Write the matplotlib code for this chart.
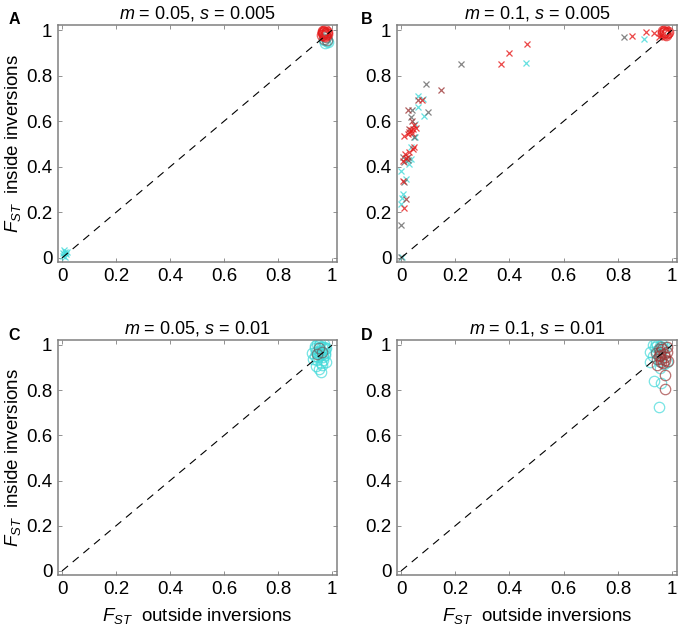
import matplotlib
matplotlib.use("Agg")
import matplotlib.pyplot as plt
from matplotlib.ticker import FuncFormatter

plt.rcParams['font.family'] = ['Liberation Sans', 'DejaVu Sans']
plt.rcParams['mathtext.fontset'] = 'custom'
plt.rcParams['mathtext.rm'] = 'Liberation Sans'
plt.rcParams['mathtext.it'] = 'Liberation Sans:italic'

# colours of the replicate groups
CYAN = (0.25, 0.85, 0.85)
GREY = (0.40, 0.40, 0.40)
DRED = (0.62, 0.22, 0.22)
RED = (0.90, 0.10, 0.10)

titles = ["$m$ = 0.05, $s$ = 0.005", "$m$ = 0.1, $s$ = 0.005",
          "$m$ = 0.05, $s$ = 0.01", "$m$ = 0.1, $s$ = 0.01"]
letters = ["A", "B", "C", "D"]
ticks = [0, 0.2, 0.4, 0.6, 0.8, 1]

# Panel A
a_cyan_x_x = [0.005, 0.010, 0.015, 0.008, 0.012, 0.004, 0.018]
a_cyan_x_y = [0.010, 0.025, 0.015, 0.035, 0.005, 0.020, 0.028]
a_red_o_x = [0.965, 0.970, 0.975, 0.980, 0.968, 0.972, 0.978, 0.962, 0.974, 0.966,
             0.982, 0.970]
a_red_o_y = [0.985, 0.990, 0.980, 0.990, 0.995, 0.975, 0.985, 0.978, 0.998, 0.992,
             0.982, 0.983]
a_grey_o_x = [0.970, 0.976, 0.982]
a_grey_o_y = [0.960, 0.968, 0.958]
a_cyan_o_x = [0.975, 0.980, 0.970, 0.985]
a_cyan_o_y = [0.945, 0.950, 0.955, 0.948]

# Panel B
b_red_x_x = [0.853, 0.902, 0.933, 0.951, 0.969, 0.466, 0.399, 0.368, 0.077, 0.012,
             0.025, 0.035, 0.043, 0.049, 0.040, 0.030, 0.043, 0.049, 0.031, 0.016,
             0.006, 0.006, 0.012, 0.020, 0.055]
b_red_x_y = [0.974, 0.990, 0.985, 0.971, 0.985, 0.937, 0.900, 0.849, 0.694, 0.537,
             0.544, 0.560, 0.566, 0.585, 0.548, 0.552, 0.478, 0.485, 0.463, 0.456,
             0.426, 0.338, 0.221, 0.440, 0.570]
b_dred_x_x = [0.147, 0.025, 0.028, 0.025, 0.018, 0.061, 0.040]
b_dred_x_y = [0.735, 0.647, 0.566, 0.441, 0.257, 0.691, 0.600]
b_grey_x_x = [0.822, 0.221, 0.092, 0.098, 0.037, 0.040, 0.049, 0.006, 0.012, 0.012,
              0.000, 0.001, 0.025]
b_grey_x_y = [0.971, 0.849, 0.762, 0.640, 0.618, 0.647, 0.532, 0.441, 0.419, 0.331,
              0.144, 0.003, 0.430]
b_cyan_x_x = [0.896, 0.460, 0.080, 0.061, 0.061, 0.086, 0.053, 0.053, 0.037, 0.037,
              0.031, 0.000, 0.018, 0.006, 0.004, 0.000, 0.003]
b_cyan_x_y = [0.959, 0.856, 0.699, 0.709, 0.662, 0.621, 0.588, 0.529, 0.485, 0.434,
              0.412, 0.382, 0.346, 0.279, 0.265, 0.238, 0.005]
b_red_o_x = [0.965, 0.970, 0.975, 0.980, 0.972, 0.968, 0.978, 0.974, 0.983]
b_red_o_y = [0.985, 0.990, 0.993, 0.988, 0.982, 0.995, 0.980, 0.998, 0.990]

# Panel C
c_cyan_o_x = [0.927, 0.952, 0.970, 0.946, 0.958, 0.977, 0.935, 0.940, 0.960, 0.965,
              0.950, 0.975, 0.945, 0.955, 0.968, 0.930, 0.962, 0.972, 0.948, 0.938,
              0.958, 0.966, 0.942, 0.953, 0.975, 0.944, 0.956, 0.970, 0.936, 0.962,
              0.950, 0.978]
c_cyan_o_y = [0.963, 1.000, 0.993, 0.948, 0.882, 0.926, 0.985, 0.970, 0.975, 0.960,
              0.990, 0.965, 0.935, 0.955, 0.945, 0.940, 0.990, 0.980, 0.965, 0.950,
              0.920, 0.935, 0.905, 0.975, 0.955, 1.005, 1.010, 1.005, 0.995, 0.910,
              0.895, 0.985]
c_grey_o_x = [0.950, 0.962, 0.945]
c_grey_o_y = [0.985, 0.970, 0.960]

# Panel D
d_cyan_o_x = [0.951, 0.933, 0.960, 0.920, 0.957, 0.918, 0.935, 0.945, 0.955, 0.965,
              0.975, 0.940, 0.930, 0.960, 0.970, 0.950, 0.942, 0.962, 0.928, 0.980]
d_cyan_o_y = [0.724, 0.840, 0.833, 0.926, 0.897, 0.970, 0.990, 1.000, 0.995, 0.985,
              0.990, 0.975, 0.950, 0.960, 0.915, 0.930, 1.008, 1.005, 0.998, 0.925]
d_grey_o_x = [0.939, 0.950, 0.960, 0.945, 0.955]
d_grey_o_y = [0.963, 0.980, 0.990, 0.940, 0.955]
d_dred_o_x = [0.975, 0.975, 0.950, 0.960, 0.970, 0.980, 0.985, 0.965, 0.955, 0.975,
              0.945, 0.980, 0.962, 0.972, 0.958]
d_dred_o_y = [0.804, 0.867, 0.950, 0.940, 0.960, 0.970, 0.930, 0.920, 0.970, 0.945,
              0.910, 0.990, 0.980, 0.935, 0.925]

panels = [
    [(a_cyan_x_x, a_cyan_x_y, CYAN, 'x'), (a_cyan_o_x, a_cyan_o_y, CYAN, 'o'),
     (a_grey_o_x, a_grey_o_y, GREY, 'o'), (a_red_o_x, a_red_o_y, RED, 'o')],
    [(b_cyan_x_x, b_cyan_x_y, CYAN, 'x'), (b_grey_x_x, b_grey_x_y, GREY, 'x'),
     (b_dred_x_x, b_dred_x_y, DRED, 'x'), (b_red_x_x, b_red_x_y, RED, 'x'),
     (b_red_o_x, b_red_o_y, RED, 'o')],
    [(c_cyan_o_x, c_cyan_o_y, CYAN, 'o'), (c_grey_o_x, c_grey_o_y, GREY, 'o')],
    [(d_cyan_o_x, d_cyan_o_y, CYAN, 'o'), (d_grey_o_x, d_grey_o_y, GREY, 'o'),
     (d_dred_o_x, d_dred_o_y, DRED, 'o')],
]

fig = plt.figure(figsize=(6.8, 6.3), dpi=100)
W, H = 680, 630
# axes boxes in pixels: left, top, right, bottom
boxes = [(58, 25, 337, 262), (397, 25, 677, 262),
         (58, 340, 337, 575), (397, 340, 677, 575)]
letter_x = [14, 367, 14, 367]

fmt = FuncFormatter(lambda v, p: f"{v:g}")

for i, (l, t, r, b) in enumerate(boxes):
    ax = fig.add_axes([l / W, 1 - b / H, (r - l) / W, (b - t) / H])
    for xs, ys, col, mk in panels[i]:
        if mk == 'o':
            ax.plot(xs, ys, 'o', ms=7.5, mfc='none', mec=col, mew=0.9, alpha=0.7)
        else:
            ax.plot(xs, ys, 'x', ms=5, mec=col, mew=0.9, alpha=0.8)
    ax.plot([0, 1], [0, 1], '--', color='k', lw=0.8, dashes=(7, 5.5), zorder=5)
    ax.set_xlim(-0.015, 1.018)
    ax.set_ylim(-0.018, 1.022)
    ax.set_xticks(ticks)
    ax.set_yticks(ticks)
    ax.xaxis.set_major_formatter(fmt)
    ax.yaxis.set_major_formatter(fmt)
    ax.tick_params(direction='in', top=True, right=True, length=3, width=0.6,
                   color='0.5', labelsize=13.5, pad=4)
    for sp in ax.spines.values():
        sp.set_color('0.5')
        sp.set_linewidth(1.1)
    ax.set_title(titles[i], fontsize=13, pad=5)
    if i % 2 == 0:
        ax.set_ylabel("$F_{ST}$  inside inversions", fontsize=13.5, labelpad=2)
    if i >= 2:
        ax.set_xlabel("$F_{ST}$  outside inversions", fontsize=13.5, labelpad=6)
    fig.text(letter_x[i] / W, 1 - (t - 5) / H, letters[i], fontsize=11.5,
             fontweight='bold', ha='center', va='center')

fig.savefig("out.png", dpi=100)
